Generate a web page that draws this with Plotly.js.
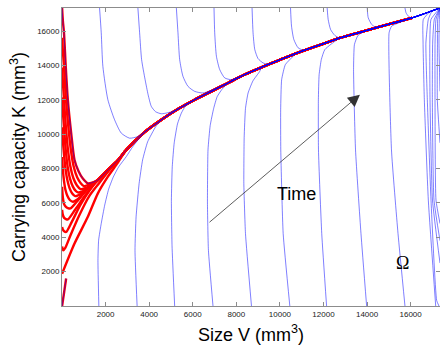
<!DOCTYPE html>
<html><head><meta charset="utf-8">
<script src="https://cdn.plot.ly/plotly-3.0.1.min.js"></script>
<style>html,body{margin:0;padding:0;background:#fff}#chart{width:440px;height:347px}</style>
</head><body><div id="chart"></div>
<script>
// Axis ticks
const xTicks = [2000, 4000, 6000, 8000, 10000, 12000, 14000, 16000];
const xTickText = ['2000', '4000', '6000', '8000', '10000', '12000', '14000', '16000'];
const yTicks = [2000, 4000, 6000, 8000, 10000, 12000, 14000, 16000];
const yTickText = ['2000', '4000', '6000', '8000', '10000', '12000', '14000', '16000'];
const axisMax = 17347;
const redEndV = 16062;

// Attracting curve (thick red/blue)
const manifoldV = [1645, 2105, 2564, 2950, 3791, 4559, 5322, 6089, 6857, 7619, 8387, 9154, 9917, 10685, 11222, 11985, 12753, 13902, 15051, 16062, 17347];
const manifoldK = [7334, 7918, 8480, 9087, 10121, 10840, 11465, 12008, 12494, 12984, 13475, 13896, 14288, 14679, 14930, 15263, 15602, 16011, 16420, 16771, 17347];

// Red trajectories (small initial V)
const redV = [
  [5, 40, 90, 170, 267, 420, 575, 760, 956, 1188, 1420],
  [5, 40, 90, 170, 260, 390, 530, 700, 860, 1004, 1250],
  [5, 40, 90, 170, 260, 380, 520, 680, 850, 1100, 1400],
  [5, 40, 90, 170, 260, 370, 500, 610, 728, 1000, 1300],
  [5, 40, 90, 160, 250, 350, 470, 605, 900, 1250],
  [5, 40, 90, 160, 250, 360, 498, 800, 1200],
  [5, 40, 90, 170, 270, 391, 700, 1150],
  [5, 40, 100, 180, 268, 600, 1100],
  [5, 40, 100, 192, 450, 850, 1300],
  [5, 30, 61, 150, 400, 800, 1250, 1700, 2105],
  [5, 574, 1186, 1646, 2105, 2564]
];
const redK = [
  [17347, 16600, 15923, 14000, 12008, 10080, 8502, 7850, 7420, 7141, 7200],
  [15612, 14850, 13950, 12250, 10850, 9250, 8150, 7480, 7150, 6983, 7060],
  [13878, 13050, 12050, 10550, 9250, 8150, 7450, 7030, 6808, 6870, 7100],
  [12143, 11350, 10400, 9100, 8100, 7400, 6950, 6730, 6615, 6700, 7000],
  [10408, 9650, 8850, 8000, 7300, 6850, 6550, 6399, 6550, 6950],
  [8674, 7950, 7300, 6750, 6400, 6170, 6066, 6300, 6850],
  [6939, 6300, 5950, 5780, 5700, 5680, 6100, 6800],
  [5600, 5300, 5130, 5060, 5037, 5600, 6500],
  [4600, 4450, 4350, 4313, 4900, 5900, 6800],
  [3469, 3320, 3243, 3380, 4150, 5300, 6400, 7150, 7800],
  [1880, 3634, 5190, 6556, 7527, 8350]
];
const shortV = [5, 190];
const shortK = [0, 1600];

// Blue trajectories starting at the top (K = 17347)
const topV = [
  [1723, 1801, 1875, 2105, 2413, 2721, 3102, 3483],
  [3483, 3562, 3653, 3814, 3952, 4099, 4297, 4559, 4848, 5170],
  [5248, 5322, 5400, 5551, 5781, 6089, 6471, 6857],
  [6976, 7008, 7086, 7238, 7468, 7776, 8157],
  [8722, 8768, 8847, 8998, 9228, 9458],
  [10487, 10533, 10639, 10836, 11066],
  [12169, 12215, 12325, 12523],
  [14007, 14053, 14210, 14407],
  [15740, 15786, 15892]
];
const topK = [
  [17347, 15906, 13954, 12008, 10840, 10063, 9770, 9864],
  [17347, 15906, 14346, 13177, 12300, 11617, 11307, 11190, 11249, 11366],
  [17347, 15906, 14346, 13370, 12786, 12494, 12400, 12560],
  [17347, 15906, 14539, 13761, 13276, 13177, 13360],
  [17347, 15906, 14930, 14400, 14150, 14080],
  [17347, 16292, 15515, 15030, 14900],
  [17347, 16683, 16099, 15749],
  [17347, 16783, 16391, 16230],
  [17347, 17075, 16876]
];

// Blue trajectories starting at the bottom (K = 0)
const bottomV = [
  [1691, 1650, 1680, 1801, 1960, 2140, 2350, 2600, 2950, 3240, 3562],
  [3447, 3350, 3400, 3540, 3699, 3929, 4297],
  [5170, 5050, 5020, 5060, 5150, 5300, 5478, 5676],
  [6930, 6720, 6675, 6700, 6800, 6960, 7120, 7330],
  [8695, 8420, 8345, 8360, 8420, 8540, 8760, 9076],
  [10455, 10150, 10040, 10035, 10080, 10250, 10607],
  [12142, 11920, 11770, 11765, 11800, 11900, 12063],
  [13980, 13720, 13470, 13380, 13420, 13580],
  [15740, 15420, 15120, 15010, 15129]
];
const bottomK = [
  [0, 2659, 3827, 4803, 5873, 6800, 7500, 8100, 8695, 9262, 9788],
  [0, 3243, 5189, 7141, 8502, 9554, 10431],
  [0, 3500, 6165, 8111, 9500, 10600, 11231, 11658],
  [0, 3243, 6000, 9087, 10500, 11500, 12184, 12593],
  [0, 4219, 7141, 9800, 11500, 12400, 13100, 13662],
  [0, 4219, 9087, 11424, 13177, 14054, 14539],
  [0, 4219, 9087, 12008, 13469, 14346, 14930],
  [0, 4219, 9087, 13761, 15222, 15748],
  [0, 4219, 9087, 15906, 16292]
];

// Blue trajectories near the right edge
const rightV = [
  [17150, 16811, 16628, 16570, 16581, 16900, 17347],
  [17300, 17194, 16934, 16765, 16700, 16811, 17000, 17347],
  [17347, 17002, 16889, 16880, 16934, 17347],
  [17347, 17071, 16995, 17010, 17086, 17347],
  [17347, 17163, 17119, 17120, 17163, 17347],
  [17347, 17224, 17230, 17240, 17347],
  [17347, 17300, 17316, 17347]
];
const rightK = [
  [0, 6165, 12008, 15300, 16683, 17150, 17347],
  [0, 321, 6165, 12008, 15300, 16683, 17200, 17347],
  [2500, 6165, 12008, 15300, 16683, 17347],
  [3800, 6165, 12008, 15300, 16683, 17347],
  [4800, 6165, 12008, 15300, 16683, 17347],
  [9500, 12008, 15300, 16683, 17347],
  [12500, 15300, 16683, 17347]
];

function follow(V, K, maxV) {
  const v = V.slice(), k = K.slice();
  const last = V[V.length - 1];
  for (let i = 0; i < manifoldV.length; i++) {
    if (manifoldV[i] > last && manifoldV[i] <= maxV) { v.push(manifoldV[i]); k.push(manifoldK[i]); }
  }
  return [v, k];
}

const RED = '#ff0000';
const BLUE = 'rgba(0,0,255,0.5)';
const traces = [];
function add(v, k, color, width, sm) {
  traces.push({x: v, y: k, type: 'scatter', mode: 'lines', hoverinfo: 'skip', showlegend: false,
    line: {color: color, width: width, shape: 'spline', smoothing: sm}});
}
for (let i = 0; i < redV.length; i++) { const r = follow(redV[i], redK[i], redEndV); add(r[0], r[1], RED, 2.4, 0.7); }
add(shortV, shortK, RED, 2.4, 0.5);
// blue
{ const r = follow(redV[0], redK[0], axisMax); add(r[0], r[1], BLUE, 1, 0.7); }
add(shortV, shortK, BLUE, 1, 0.5);
for (let i = 0; i < topV.length; i++) { const r = follow(topV[i], topK[i], axisMax); add(r[0], r[1], BLUE, 1, 0.6); }
for (let i = 0; i < bottomV.length; i++) { const r = follow(bottomV[i], bottomK[i], axisMax); add(r[0], r[1], BLUE, 1, 0.45); }
for (let i = 0; i < rightV.length; i++) { add(rightV[i], rightK[i], BLUE, 1, 0.45); }

const axisCommon = {
  range: [0, axisMax], showline: true, linecolor: '#8c8c8c', linewidth: 1, mirror: 'ticks',
  ticks: 'inside', ticklen: 4, tickcolor: '#8c8c8c', showgrid: false, zeroline: false,
  tickfont: {family: 'Liberation Sans, Arial, sans-serif', size: 8, color: '#222'}
};
const layout = {
  width: 440, height: 347,
  margin: {l: 62, r: 0, t: 8, b: 41},
  paper_bgcolor: '#fff', plot_bgcolor: '#fff',
  font: {family: 'Liberation Sans, Arial, sans-serif'},
  xaxis: Object.assign({}, axisCommon, {tickvals: xTicks, ticktext: xTickText,
    title: {text: 'Size V (mm<sup>3</sup>)', font: {size: 18, color: '#000'}, standoff: 10}}),
  yaxis: Object.assign({}, axisCommon, {tickvals: yTicks, ticktext: yTickText,
    title: {text: 'Carrying capacity K (mm<sup>3</sup>)', font: {size: 18, color: '#000'}, standoff: 6}}),
  annotations: [
    {x: 13672, y: 12301, ax: 6700, ay: 4803, axref: 'x', ayref: 'y', xref: 'x', yref: 'y',
     text: '', showarrow: true, arrowhead: 2, arrowsize: 3, arrowwidth: 0.8, arrowcolor: '#333'},
    {x: 10777, y: 6515, xref: 'x', yref: 'y', text: 'Time', showarrow: false,
     font: {size: 18, color: '#000', family: 'Liberation Sans, Arial, sans-serif'}},
    {x: 15625, y: 2483, xref: 'x', yref: 'y', text: 'Ω', showarrow: false,
     font: {size: 18, color: '#000', family: 'Liberation Serif, Times New Roman, serif'}}
  ]
};
Plotly.newPlot('chart', traces, layout, {staticPlot: true, displayModeBar: false});
</script></body></html>
